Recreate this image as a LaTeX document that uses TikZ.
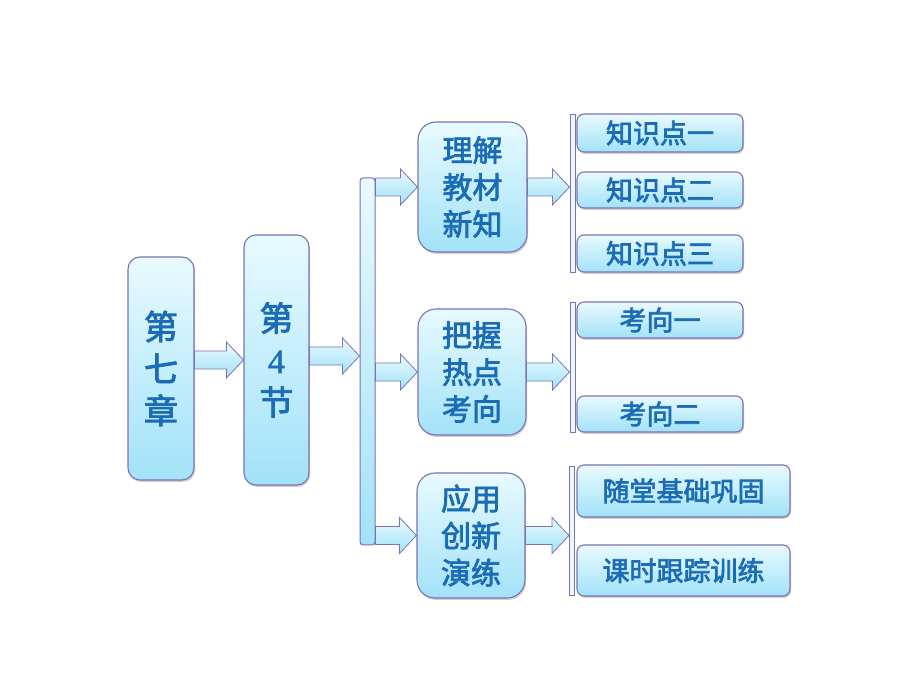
\documentclass[tikz,border=0pt]{standalone}
\usepackage{fontspec}
\setmainfont{Noto Sans CJK SC}[FakeBold=2.5]
\newfontfamily\digitfont{Liberation Serif}[FakeBold=1.5]
\usetikzlibrary{calc,shadows}

\definecolor{boxtop}{HTML}{E8FAFF}
\definecolor{boxbottom}{HTML}{A2E2F8}
\definecolor{boxline}{HTML}{7C72B4}
\definecolor{textblue}{HTML}{1A6CB6}

\tikzset{
	box/.style={draw=boxline,line width=1.1pt,top color=boxtop,bottom color=boxbottom,
		text=textblue,align=center,inner sep=0pt,
		drop shadow={shadow xshift=1pt,shadow yshift=-2pt,opacity=.3,fill=black!60}},
	bigbox/.style={box,rounded corners=12pt,font=\fontsize{34}{42}\selectfont},
	midbox/.style={box,rounded corners=18pt,font=\fontsize{30}{37}\selectfont},
	smallbox/.style={box,rounded corners=7pt,font=\fontsize{27}{30}\selectfont},
	mainbar/.style={draw=boxline,line width=1pt,top color=boxtop,bottom color=boxbottom,
		rounded corners=3pt,inner sep=0pt},
	thinbar/.style={draw=boxline,line width=1pt,fill=boxtop,inner sep=0pt},
	fat arrow/.style={draw=boxline,line width=.8pt,top color=boxtop,bottom color=boxbottom}
}

% block arrow from #1 to the x of #2, at the height of #1
\newcommand{\fatarrow}[2]{%
	\path[fat arrow] let \p1=(#1), \p2=(#2) in
	(\x1,\y1+9) -- (\x2-17,\y1+9) -- (\x2-17,\y1+18) -- (\x2,\y1)
	-- (\x2-17,\y1-18) -- (\x2-17,\y1-9) -- (\x1,\y1-9) -- cycle;}

\begin{document}
\begin{tikzpicture}[x=1pt,y=1pt]
	\useasboundingbox[fill=white] (0,0) rectangle (920,690);
	
	\node[bigbox,minimum width=66,minimum height=223] (ch) at (161,321.5) {第\\七\\章};
	\node[bigbox,minimum width=65,minimum height=250] (sec) at (276.5,330) {第\\{\digitfont 4}\\节};
	\node[mainbar,minimum width=15,minimum height=367] (bar) at (367.5,328.5) {};
	
	\node[midbox,minimum width=109,minimum height=130] (m1) at (472.5,503) {理解\\教材\\新知};
	\node[midbox,minimum width=108,minimum height=126] (m2) at (472,318) {把握\\热点\\考向};
	\node[midbox,minimum width=108,minimum height=125] (m3) at (471,154.5) {应用\\创新\\演练};
	
	\node[thinbar,minimum width=5,minimum height=158] (b1) at (572.5,496) {};
	\node[thinbar,minimum width=5,minimum height=130] (b2) at (572.5,322) {};
	\node[thinbar,minimum width=5,minimum height=129] (b3) at (572,158.5) {};
	
	\node[smallbox,minimum width=166,minimum height=38] (k1) at (660,557) {知识点一};
	\node[smallbox,minimum width=166,minimum height=36] (k2) at (660,500) {知识点二};
	\node[smallbox,minimum width=166,minimum height=37] (k3) at (660,436.5) {知识点三};
	\node[smallbox,minimum width=166,minimum height=36] (q1) at (660,370) {考向一};
	\node[smallbox,minimum width=166,minimum height=36] (q2) at (660,276) {考向二};
	\node[smallbox,minimum width=213,minimum height=52] (r1) at (683.5,199) {随堂基础巩固};
	\node[smallbox,minimum width=213,minimum height=51] (r2) at (683.5,119.5) {课时跟踪训练};
	
	\fatarrow{ch.east |- sec.center}{sec.west}
	\fatarrow{$(sec.east)+(0,4)$}{bar.west}
	\foreach \m in {m1,m2,m3}
	\fatarrow{bar.east |- \m.west}{\m.west};
	\fatarrow{m1.east}{b1.west}
	\fatarrow{m2.east}{b2.west}
	\fatarrow{m3.east}{b3.west}
\end{tikzpicture}
\end{document}
